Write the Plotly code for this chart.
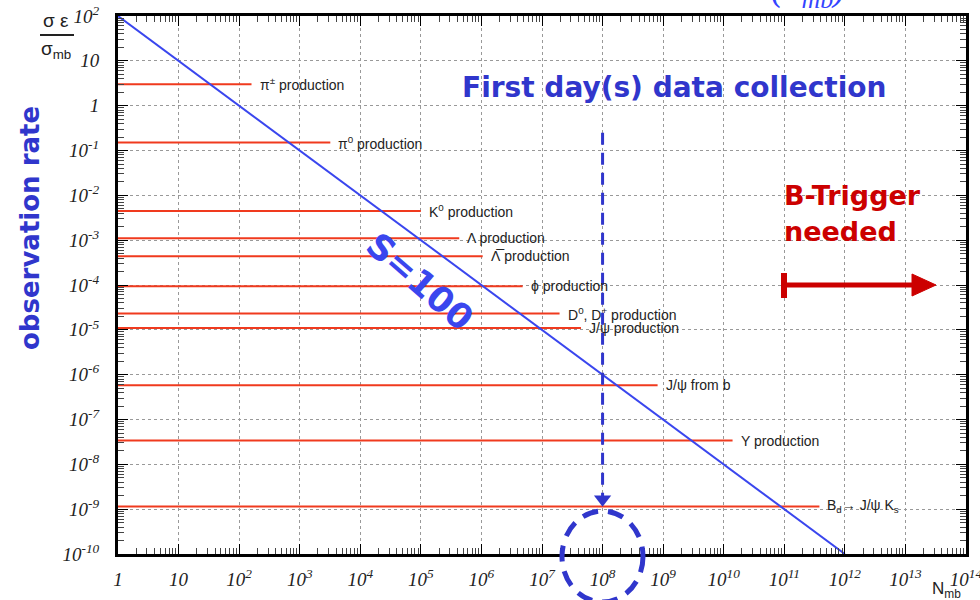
import math
import plotly.graph_objects as go

# ---------------- data ----------------
channels = [
    "π<sup>±</sup> production",
    "π<sup>0</sup> production",
    "K<sup>0</sup> production",
    "Λ production",
    "Λ\u0305 production",
    "ϕ production",
    "D<sup>0</sup>, D<sup>+</sup> production",
    "J/ψ production",
    "J/ψ from b",
    "Υ production",
    "B<sub>d</sub>→ J/ψ K<sub>s</sub>",
]
rates = [3.0, 0.15, 4.5e-3, 1.1e-3, 4.4e-4, 9.4e-5, 2.3e-5, 1.1e-5, 5.8e-7, 3.4e-8, 1.15e-9]
n_end = [160, 3.2e3, 1.0e5, 4.3e5, 1.05e6, 4.8e6, 1.95e7, 4.4e7, 8.1e8, 1.4e10, 3.8e11]

s100_n = [1, 1e12]
s100_rate = [1e2, 1e-10]

first_day_n = 1e8
first_day_rate = [0.25, 1.66e-9]

x_tickvals = [10 ** i for i in range(0, 15)]
x_ticktext = ["1", "10"] + [f"10<sup>{i}</sup>" for i in range(2, 15)]
y_tickvals = [10 ** i for i in range(-10, 3)]
y_ticktext = [f"10<sup>-{-i}</sup>" for i in range(-10, 0)] + ["1", "10", "10<sup>2</sup>"]

# ---------------- figure ----------------
L, R, T, B = 118, 14, 16, 46
W, H = 980, 600
PW, PH = W - L - R, H - T - B


def px(x):
    return (x - L) / PW


def py(y):
    return (H - B - y) / PH


RED = "#f03a1e"
BLUE = "#3a46ee"
DBLUE = "#3036cc"

fig = go.Figure()

for name, r, ne in zip(channels, rates, n_end):
    fig.add_trace(go.Scatter(x=[1, ne], y=[r, r], mode="lines",
                             line=dict(color=RED, width=2), showlegend=False,
                             hoverinfo="skip"))

fig.add_trace(go.Scatter(x=s100_n, y=s100_rate, mode="lines",
                         line=dict(color=BLUE, width=2), showlegend=False))

fig.add_trace(go.Scatter(x=[first_day_n, first_day_n], y=first_day_rate, mode="lines",
                         line=dict(color=DBLUE, width=3, dash="12px,8px"),
                         showlegend=False))
fig.add_trace(go.Scatter(x=[first_day_n], y=[first_day_rate[1]], mode="markers",
                         marker=dict(symbol="triangle-down", size=15, color=DBLUE),
                         showlegend=False))

annotations = []
for name, r, ne in zip(channels, rates, n_end):
    annotations.append(dict(x=math.log10(ne), y=math.log10(r),
                            xref="x", yref="y", text=name, showarrow=False,
                            xanchor="left", yanchor="middle", xshift=6,
                            font=dict(family="Liberation Sans, Arial", size=14, color="#222")))


def note(x, y, text, size, color, family="DejaVu Sans", xanchor="center", yanchor="middle", **kw):
    return dict(x=px(x), y=py(y), xref="paper", yref="paper", text=text, showarrow=False,
                xanchor=xanchor, yanchor=yanchor,
                font=dict(family=family, size=size, color=color, **kw.pop("fontkw", {})), **kw)


annotations += [
    note(674, 87, "<b>First day(s) data collection</b>", 28, DBLUE),
    note(420, 282, "<b>S=100</b>", 35, BLUE, textangle=41),
    note(782, 195, "<b>B-Trigger</b>", 27, "#cc0000", xanchor="left"),
    note(782, 232, "<b>needed</b>", 27, "#cc0000", xanchor="left"),
    note(30, 228, "<b>observation rate</b>", 26, DBLUE, textangle=-90),
    note(56, 20, "σ ε", 19, "#222", family="Liberation Sans"),
    note(56, 50, "σ<sub>mb</sub>", 19, "#222", family="Liberation Sans"),
    note(946, 590, "N<sub>mb</sub>", 17, "#222", family="Liberation Sans"),
    note(808, 16, "(σ<sub>mb</sub>)", 37, "#3344ff", family="Liberation Serif", yanchor="bottom",
         fontkw=dict(style="italic")),
]

shapes = [
    dict(type="line", xref="paper", yref="paper", x0=px(40), x1=px(74), y0=py(35), y1=py(35),
         line=dict(color="#222", width=2)),
    dict(type="circle", xref="paper", yref="paper", x0=px(562), x1=px(643), y0=py(511), y1=py(602),
         line=dict(color=DBLUE, width=5, dash="16px,10px")),
    dict(type="line", xref="paper", yref="paper", x0=px(783), x1=px(916), y0=py(285), y1=py(285),
         line=dict(color="#cc0000", width=5)),
    dict(type="line", xref="paper", yref="paper", x0=px(784), x1=px(784), y0=py(273), y1=py(298),
         line=dict(color="#cc0000", width=6)),
    dict(type="path", xref="paper", yref="paper",
         path=f"M {px(912)} {py(274)} L {px(936)} {py(285)} L {px(912)} {py(296)} Z",
         fillcolor="#cc0000", line=dict(color="#cc0000", width=1)),
]

tickfont = dict(family="Liberation Serif", size=19, color="#222", style="italic")
axis_common = dict(type="log", showline=True, linecolor="black", linewidth=3, mirror="allticks",
                   ticks="inside", ticklen=10, tickcolor="black", tickwidth=1,
                   showgrid=True, gridcolor="#999", griddash="dot", gridwidth=1,
                   zeroline=False, tickfont=tickfont, automargin=False, ticklabeloverflow="allow",
                   minor=dict(ticks="inside", ticklen=6, tickcolor="#444", dtick="D1", showgrid=False))

fig.update_layout(
    width=W, height=H,
    margin=dict(l=L, r=R, t=T, b=B, autoexpand=False),
    paper_bgcolor="white", plot_bgcolor="white",
    xaxis=dict(axis_common, range=[0, 14], tickvals=x_tickvals, ticktext=x_ticktext, ticklabelstandoff=6),
    yaxis=dict(axis_common, range=[-10, 2], tickvals=y_tickvals, ticktext=y_ticktext, ticklabelstandoff=12),
    annotations=annotations,
    shapes=shapes,
    showlegend=False,
)

fig.write_html("out.html")
